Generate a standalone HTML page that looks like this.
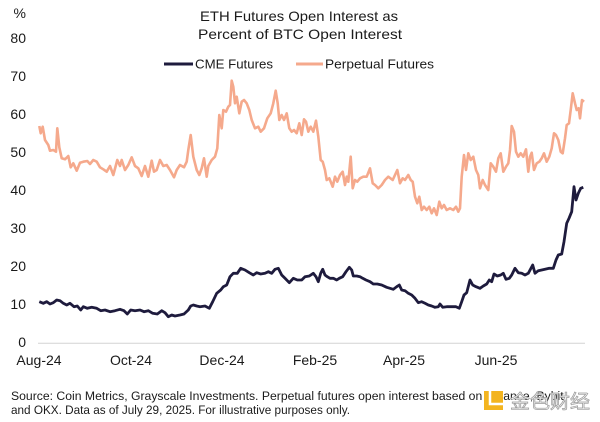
<!DOCTYPE html>
<html><head><meta charset="utf-8"><style>
html,body{margin:0;padding:0;background:#fff;}
svg{display:block;}
text{font-family:"Liberation Sans","Noto Sans CJK SC",sans-serif;fill:#1a1a1a;}
</style></head><body>
<svg width="600" height="422" viewBox="0 0 600 422" xmlns="http://www.w3.org/2000/svg">
<rect width="600" height="422" fill="#fff"/>
<!-- Title -->
<text x="299" y="21" font-size="14" text-anchor="middle" textLength="198" lengthAdjust="spacingAndGlyphs">ETH Futures Open Interest as</text>
<text x="300" y="39" font-size="14" text-anchor="middle" textLength="204" lengthAdjust="spacingAndGlyphs">Percent of BTC Open Interest</text>
<!-- Legend -->
<line x1="164" y1="64" x2="193" y2="64" stroke="#1e1b3d" stroke-width="3"/>
<text x="195" y="68.5" font-size="13" textLength="78" lengthAdjust="spacingAndGlyphs">CME Futures</text>
<line x1="296" y1="64" x2="323" y2="64" stroke="#f5a98c" stroke-width="3"/>
<text x="325" y="68.5" font-size="13" textLength="109" lengthAdjust="spacingAndGlyphs">Perpetual Futures</text>
<!-- Y axis labels -->
<g font-size="14" text-anchor="end">
<text x="26" y="18">%</text>
<text x="26" y="43">80</text>
<text x="26" y="81">70</text>
<text x="26" y="119">60</text>
<text x="26" y="157">50</text>
<text x="26" y="195">40</text>
<text x="26" y="233">30</text>
<text x="26" y="271">20</text>
<text x="26" y="309">10</text>
<text x="26" y="347">0</text>
</g>
<!-- Baseline -->
<line x1="38" y1="343.3" x2="585" y2="343.3" stroke="#d4d4d4" stroke-width="1"/>
<!-- X labels -->
<g font-size="14" text-anchor="middle">
<text x="39" y="365">Aug-24</text>
<text x="131" y="365">Oct-24</text>
<text x="222" y="365">Dec-24</text>
<text x="315" y="365">Feb-25</text>
<text x="404" y="365">Apr-25</text>
<text x="496" y="365">Jun-25</text>
</g>
<!-- Perpetual series -->
<polyline fill="none" stroke="#f5a98c" stroke-width="2.6" stroke-linejoin="round" points="39.3,126 40.7,133.3 42.7,126.7 45,140 48.3,145 50,150.7 53.3,150 56,151.7 57.3,128.3 59.3,147.3 61.7,158.3 65,159.3 68.3,156 70.7,167.3 73.3,163.3 76.7,170.7 80,162.7 83.3,161.7 87.3,161 90,164 93.3,160 96.7,161.7 100,167.3 103.3,169.3 106.7,171.7 110,166 113.3,175 117.3,160 120,166 121.7,160 125,170 128.3,165 131.7,157.3 135,166 138.3,168.3 141.7,176 145,166 148.3,176.7 151.7,160.7 154,171.7 156.7,170 160,160 163.3,166 166.7,165 170,170 174,177.3 176.7,170 180,165 184,167.3 186.7,161.7 188.3,150 190.7,135 193.3,156.7 196.7,170 199.3,175 201.7,168.3 204,158.3 206.7,176.7 208.3,166 211.7,160 215,156.7 217.3,148.3 219.3,115 221.7,128.3 223.3,110 226,111.7 228.3,106.7 230,105 231.7,80.7 233.3,86.7 235,103.3 236.7,96.7 239.3,113.3 241.7,101.7 244,100 246.7,103.3 249.3,110 251.7,120 255,128.3 258.3,126.7 260.7,131.7 264,128.3 267.3,118.3 270.7,113.3 273.3,103.3 275.7,90.7 277.7,103.3 279.3,120 281.7,115 284,120 286.7,113.3 289.3,128.3 291.7,131.7 294,130 296.7,133.3 299.3,123.3 301.7,135 304,119.3 306,121.7 308.3,131.7 310.7,126.7 313.3,131.7 316,120.7 318.3,136.7 320.7,160 322.7,161.7 325,170 326.7,180 329.3,178.3 332.7,186.7 335,176.7 337.3,181.7 340,175 342.7,171.7 345,185 346.7,176.7 348.3,181.7 350.7,156.7 352.7,188.3 355,180 357.3,181.7 360,178.3 363.3,176.7 366.7,176.7 370,168.3 372.7,183.3 375,185 378.3,188.3 381.7,185 385,180 388.3,176.7 392.7,180 395,175 397.3,170 400,183.3 402.7,178.3 405,180 408.3,175 410.7,180 412.7,181.7 415,196.7 417.3,203.3 419.3,196.7 421.7,210 424,206.7 426.7,210 429.3,206.7 431.7,213.3 434,208.3 436.7,215 439.3,201.7 441.7,208.3 444,205 446.7,210 450,208.3 453.3,210 456,206.7 458.3,211.7 460,208.3 461.7,176.7 464,155 466,170 468.3,153.3 470.7,160 473.3,156.7 476,170 478.3,175 480,188.3 482.7,180 485,185 488.3,190 490.7,163.3 493.3,166.7 496,171.7 498.3,158.3 500.7,153.3 503.3,171.7 506,166.7 508.3,163.3 510,150 511.7,126 514,131.7 516,151.7 518.3,156.7 520.7,153.3 523.3,156.7 526,149.3 528.3,171.7 530,156.7 531.7,152.7 534,170 536.7,163.3 539.3,161.7 541.7,158.3 544,153.3 546.7,161.7 549.3,156.7 551.7,148.3 554,133.3 556,135 558.3,140 560.7,151.7 562.7,153.3 565,138.3 566.7,125 569,123.3 570.7,110 572.7,93.3 575,103.3 576.7,110 578.7,108.3 580,118.3 582,100 584,101.7"/>
<!-- CME series -->
<polyline fill="none" stroke="#1e1b3d" stroke-width="2.8" stroke-linejoin="round" points="39.3,301.7 43.3,303.3 46.7,301.7 50,304 53.3,302.7 56.7,300 60,300.7 63.3,303.3 66.7,305 70,303.3 74,306.7 77.3,306 80.7,310 83.3,306.7 87.3,308.3 91.7,307.3 96.7,308.3 100.7,310.7 105,310 110,311.7 115,310.7 120,309.3 124,310.7 127.3,314 130.7,310 135,310.7 140,310 144,311.7 148.3,310.7 152.7,313.3 157.3,314 161.7,310.7 165,312.7 168.3,316.7 171.7,315 175,316 180,315 184,314 188.3,310 190.7,306 193.3,305 196.7,306 200,306.7 205,306 209.3,308.3 212.7,301.7 216.7,293.3 220.7,290 223.3,286.7 226.7,285 230,276.7 233.3,273.3 237.3,273.3 240.7,268.3 245,270 249.3,272.7 253.3,275 256.7,272.7 260.7,274 265,273.3 268.3,271.7 271.7,273.3 275,269.3 278.3,268.3 281.7,275 285,278.3 289.3,282.7 293.3,278.3 297.3,280 301.7,280 305,276.7 309.3,276 313.3,273.3 316,276.7 318.3,281.7 320.7,273.3 322.7,269.3 325,275 327.3,276.7 330,278.3 333.3,278.3 336.7,280 339.3,278.3 342.7,276.7 346,271.7 349.3,267.3 351.7,270 353.3,276 356.7,276 360,276.7 362.7,278.3 366,280 370,281.7 373.3,284 377.3,284 381.7,285 386.7,287.3 390,288.3 393.3,289.3 396.7,286.7 399.3,285 401.7,290 405,290.7 408.3,293.3 411.7,295 415,298.3 418.3,302.7 421.7,301.7 425,303.3 428.3,305 431.7,306 435,307.3 438.3,306.7 440,304 442.7,307.3 446.7,306.7 451.7,306.7 456,306.7 459.3,308.3 461.7,301.7 464,295 466.7,292.7 470,280 472.7,285 476,286.7 480,288.3 483.3,286 486.7,284 489.3,280 491.7,281.7 494,274 497.3,276 500.7,275 503.3,273.3 506,279.3 509.3,278.3 511.7,275 515,268.3 518.3,272.7 521.7,273.3 525,275 528.3,273.3 532.7,265 535,273.3 538.3,270.7 541.7,270 545,269.3 549.3,268.3 553.3,268.3 556,260 558.3,255 561.7,254 564,241.7 566.7,223.3 569,218.3 571.7,211.7 574,186.7 576,200 578.3,193.3 580.7,188.3 583.3,187.3"/>
<!-- Footer -->
<text x="11" y="400" font-size="12.3" textLength="556" lengthAdjust="spacingAndGlyphs">Source: Coin Metrics, Grayscale Investments. Perpetual futures open interest based on Binance, Bybit,</text>
<text x="11" y="414" font-size="12.3" textLength="339" lengthAdjust="spacingAndGlyphs">and OKX. Data as of July 29, 2025. For illustrative purposes only.</text>
<!-- Watermark -->
<rect x="484" y="391" width="19" height="19" fill="#f3b41f"/>
<path d="M490 391 V404 H503" fill="none" stroke="#fff" stroke-width="2.5"/>
<text x="510" y="408" font-size="19" style="fill:#f2f2f2;stroke:#9a9a9a;stroke-width:0.7" textLength="80" lengthAdjust="spacingAndGlyphs">金色财经</text>
</svg>
</body></html>
